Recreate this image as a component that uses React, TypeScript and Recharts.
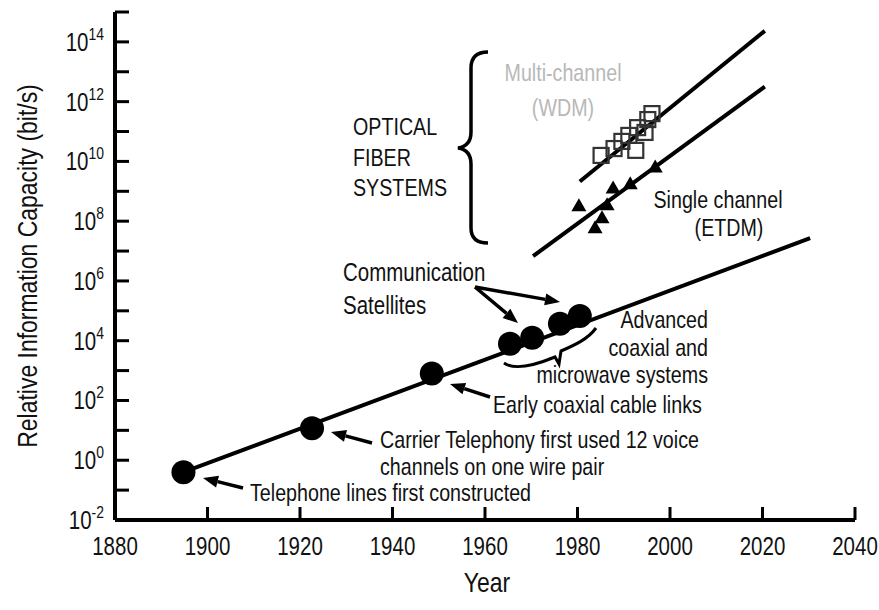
import React from "react";
import { ComposedChart, XAxis, YAxis, Line, Scatter } from "recharts";

// Capacity values are stored as log10(bit/s)
const yearTicks = [1880, 1900, 1920, 1940, 1960, 1980, 2000, 2020, 2040];
const innerYearTicks = [1900, 1920, 1940, 1960, 1980, 2000, 2020];
const decadeTicks = [-2, -1, 0, 1, 2, 3, 4, 5, 6, 7, 8, 9, 10, 11, 12, 13, 14, 15];

// copper / coaxial / microwave systems (filled circles)
const copperYears = [1894.8, 1922.6, 1948.5, 1965.4, 1970.2, 1976.2, 1980.5];
const copperLog = [-0.4, 1.07, 2.9, 3.9, 4.1, 4.57, 4.83];

// multi-channel WDM (open squares)
const wdmYears = [1985.1, 1987.9, 1989.6, 1991.1, 1992.6, 1993.0, 1994.6, 1995.2, 1996.1];
const wdmLog = [10.2, 10.43, 10.67, 10.87, 10.37, 11.13, 10.97, 11.4, 11.6];

// single channel ETDM (triangles)
const etdmYears = [1980.3, 1983.8, 1985.3, 1986.4, 1987.7, 1991.4, 1996.8];
const etdmLog = [8.53, 7.8, 8.13, 8.57, 9.13, 9.27, 9.83];

// trend lines
const copperTrendYears = [1894.8, 2030.3];
const copperTrendLog = [-0.4, 7.43];
const wdmTrendYears = [1980.5, 2020.5];
const wdmTrendLog = [9.33, 14.37];
const etdmTrendYears = [1970.4, 2020.5];
const etdmTrendLog = [6.83, 12.5];

const toRows = (xs: number[], ys: number[]) => xs.map((year, i) => ({ year, cap: ys[i] }));

// no condensed face available, so squeeze Liberation Sans (Arial metrics) horizontally
const FONT = '"Liberation Sans", Arial, sans-serif';
const SQUEEZE = 0.82;

type NTextProps = {
  x: number;
  y: number;
  size?: number;
  anchor?: "start" | "middle" | "end";
  fill?: string;
  rotate?: boolean;
  children: React.ReactNode;
};

function NText({ x, y, size = 24, anchor = "start", fill = "#111", rotate = false, children }: NTextProps) {
  return (
    <text
      transform={`translate(${x},${y})${rotate ? " rotate(-90)" : ""} scale(${SQUEEZE},1)`}
      textAnchor={anchor}
      fontFamily={FONT}
      fontSize={size}
      fill={fill}
      dominantBaseline="central"
    >
      {children}
    </text>
  );
}

const BottomTick = (props: any) => {
  const { x, y, payload } = props;
  return (
    <NText x={x} y={y + 9} size={25} anchor="middle">
      {payload.value}
    </NText>
  );
};

const LeftTick = (props: any) => {
  const { x, y, payload } = props;
  if (payload.value % 2 !== 0) return <g />;
  return (
    <text
      transform={`translate(${x},${y + 9}) scale(${SQUEEZE},1)`}
      textAnchor="end"
      fontFamily={FONT}
      fill="#111"
    >
      <tspan fontSize={25}>10</tspan>
      <tspan fontSize={17} dy={-11}>
        {payload.value}
      </tspan>
    </text>
  );
};

const Empty = () => <g />;

const CircleShape = (p: any) => <circle cx={p.cx} cy={p.cy} r={12} fill="#000" />;
const SquareShape = (p: any) => (
  <rect x={p.cx - 7.5} y={p.cy - 7.5} width={15} height={15} fill="none" stroke="#333" strokeWidth={2.2} />
);
const TriangleShape = (p: any) => (
  <polygon
    points={`${p.cx},${p.cy - 7} ${p.cx - 7.5},${p.cy + 6} ${p.cx + 7.5},${p.cy + 6}`}
    fill="#000"
  />
);

function Arrow({ x1, y1, x2, y2 }: { x1: number; y1: number; x2: number; y2: number }) {
  const a = Math.atan2(y2 - y1, x2 - x1);
  const len = 15;
  const w = 6;
  const bx = x2 - len * Math.cos(a);
  const by = y2 - len * Math.sin(a);
  const px = -Math.sin(a) * w;
  const py = Math.cos(a) * w;
  return (
    <g>
      <line x1={x1} y1={y1} x2={bx} y2={by} stroke="#000" strokeWidth={3.5} />
      <polygon points={`${x2},${y2} ${bx + px},${by + py} ${bx - px},${by - py}`} fill="#000" />
    </g>
  );
}

const axisStroke = { stroke: "#000", strokeWidth: 4 };
const tickStroke = { stroke: "#000", strokeWidth: 3 };

export default function App() {
  return (
    <div style={{ position: "absolute", left: 0, top: 0, width: 879, height: 610, background: "#fff" }}>
      <ComposedChart width={879} height={610} margin={{ top: 12, right: 24, bottom: 30, left: 15 }}>
        <XAxis
          xAxisId="bottom"
          type="number"
          dataKey="year"
          domain={[1880, 2040]}
          ticks={yearTicks}
          height={60}
          tickSize={-13}
          tickMargin={30}
          tick={<BottomTick />}
          axisLine={axisStroke}
          tickLine={tickStroke}
          interval={0}
        />
        <XAxis
          xAxisId="top"
          orientation="top"
          type="number"
          dataKey="year"
          domain={[1880, 2040]}
          ticks={innerYearTicks}
          height={0}
          tickSize={-13}
          tick={<Empty />}
          axisLine={axisStroke}
          tickLine={tickStroke}
          interval={0}
        />
        <YAxis
          yAxisId="left"
          type="number"
          dataKey="cap"
          domain={[-2, 15]}
          ticks={decadeTicks}
          width={100}
          tickSize={-14}
          tickMargin={25}
          tick={<LeftTick />}
          axisLine={axisStroke}
          tickLine={tickStroke}
          interval={0}
        />
        <YAxis
          yAxisId="right"
          orientation="right"
          type="number"
          dataKey="cap"
          domain={[-2, 15]}
          ticks={decadeTicks}
          width={0}
          tickSize={-14}
          tick={<Empty />}
          axisLine={axisStroke}
          tickLine={tickStroke}
          interval={0}
        />
        <Line
          xAxisId="bottom"
          yAxisId="left"
          data={toRows(copperTrendYears, copperTrendLog)}
          dataKey="cap"
          type="linear"
          stroke="#000"
          strokeWidth={4}
          dot={false}
          activeDot={false}
          isAnimationActive={false}
        />
        <Line
          xAxisId="bottom"
          yAxisId="left"
          data={toRows(wdmTrendYears, wdmTrendLog)}
          dataKey="cap"
          type="linear"
          stroke="#000"
          strokeWidth={4}
          dot={false}
          activeDot={false}
          isAnimationActive={false}
        />
        <Line
          xAxisId="bottom"
          yAxisId="left"
          data={toRows(etdmTrendYears, etdmTrendLog)}
          dataKey="cap"
          type="linear"
          stroke="#000"
          strokeWidth={4}
          dot={false}
          activeDot={false}
          isAnimationActive={false}
        />
        <Scatter
          xAxisId="bottom"
          yAxisId="left"
          data={toRows(copperYears, copperLog)}
          dataKey="cap"
          shape={<CircleShape />}
          isAnimationActive={false}
        />
        <Scatter
          xAxisId="bottom"
          yAxisId="left"
          data={toRows(wdmYears, wdmLog)}
          dataKey="cap"
          shape={<SquareShape />}
          isAnimationActive={false}
        />
        <Scatter
          xAxisId="bottom"
          yAxisId="left"
          data={toRows(etdmYears, etdmLog)}
          dataKey="cap"
          shape={<TriangleShape />}
          isAnimationActive={false}
        />
      </ComposedChart>

      <svg width={879} height={610} style={{ position: "absolute", left: 0, top: 0, pointerEvents: "none" }}>
        {/* axis titles */}
        <NText x={487} y={582} size={28} anchor="middle">Year</NText>
        <NText x={27} y={266} size={28} anchor="middle" rotate>
          Relative Information Capacity (bit/s)
        </NText>

        {/* optical fibre group */}
        <NText x={353} y={127}>OPTICAL</NText>
        <NText x={353} y={158}>FIBER</NText>
        <NText x={353} y={188}>SYSTEMS</NText>
        <path
          d="M488,52 Q471,52 471,68 L471,132 Q471,146 458,148 Q471,150 471,164 L471,228 Q471,243 488,243"
          fill="none"
          stroke="#000"
          strokeWidth={3.5}
        />
        <NText x={563} y={73} anchor="middle" fill="#b8b8b8">Multi-channel</NText>
        <NText x={563} y={108} anchor="middle" fill="#b8b8b8">(WDM)</NText>
        <NText x={718} y={200} anchor="middle">Single channel</NText>
        <NText x={729} y={228} anchor="middle">(ETDM)</NText>

        {/* satellites */}
        <NText x={343} y={272} size={25}>Communication</NText>
        <NText x={343} y={305} size={25}>Satellites</NText>
        <Arrow x1={475} y1={287} x2={518} y2={323} />
        <Arrow x1={475} y1={287} x2={560} y2={302} />

        {/* advanced coax brace */}
        <path
          d="M504,363 C515,371 538,364 555,357 L559,364 L561,351 C575,345 588,339 596,328"
          fill="none"
          stroke="#000"
          strokeWidth={3}
        />
        <NText x={708} y={320} anchor="end">Advanced</NText>
        <NText x={708} y={348} anchor="end">coaxial and</NText>
        <NText x={708} y={375} anchor="end">microwave systems</NText>

        <Arrow x1={490} y1={397} x2={450} y2={384} />
        <NText x={493} y={405}>Early coaxial cable links</NText>

        <Arrow x1={372} y1={443} x2={331} y2={432} />
        <NText x={380} y={440}>Carrier Telephony first used 12 voice</NText>
        <NText x={380} y={467}>channels on one wire pair</NText>

        <Arrow x1={243} y1={488} x2={203} y2={478} />
        <NText x={250} y={493}>Telephone lines first constructed</NText>
      </svg>
    </div>
  );
}
